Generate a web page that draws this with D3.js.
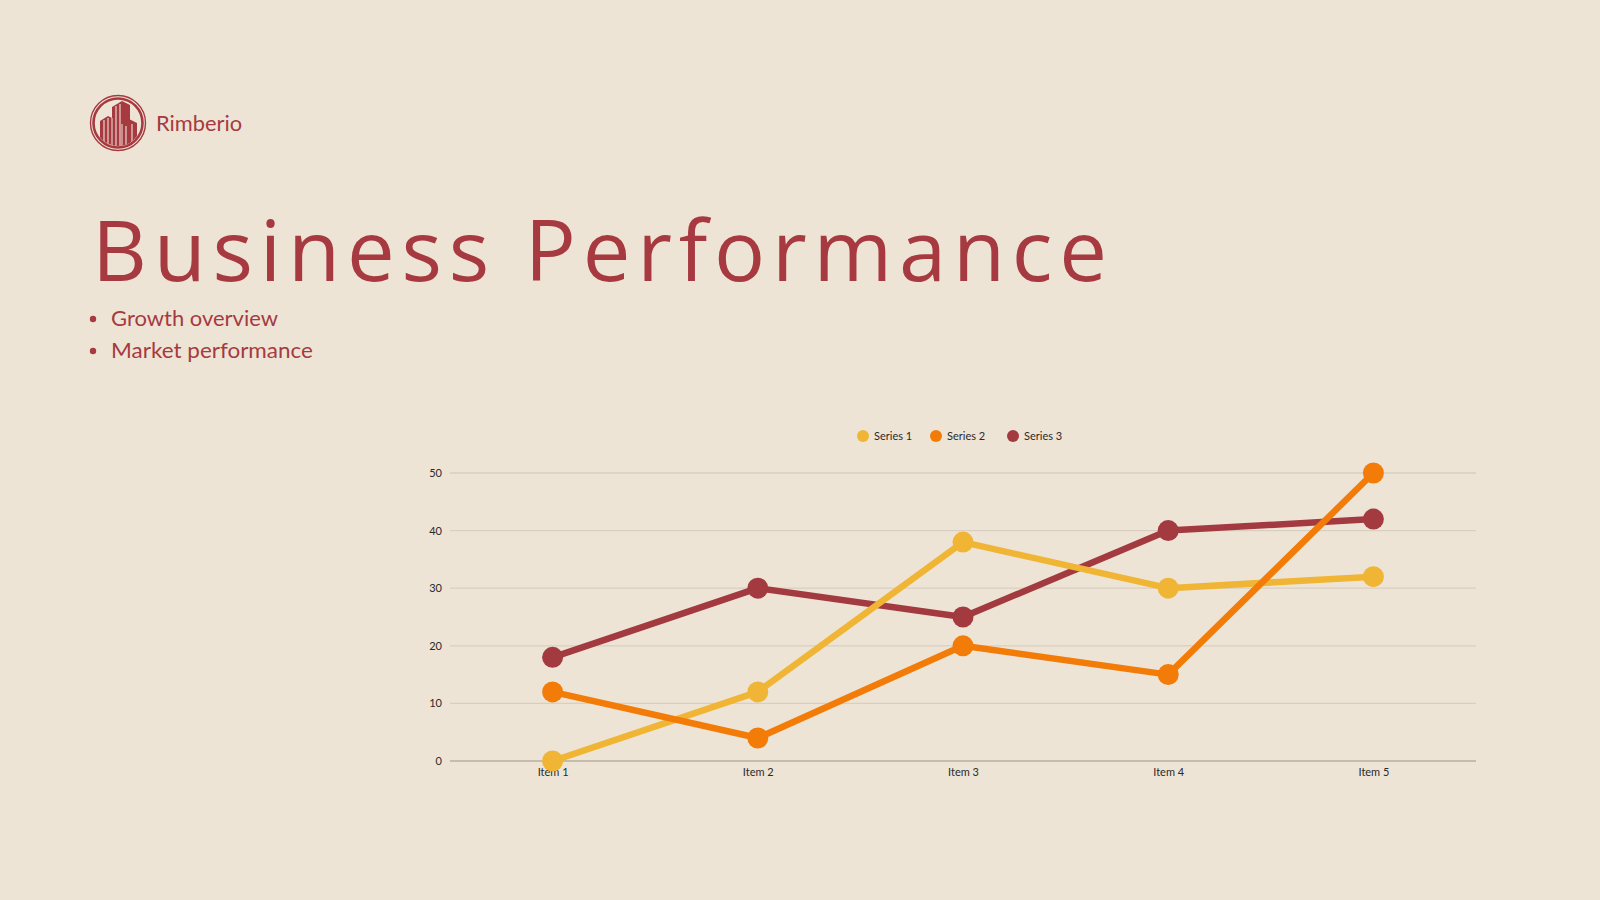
<!DOCTYPE html>
<html>
<head>
<meta charset="utf-8">
<script src="https://cdn.jsdelivr.net/npm/d3@7/dist/d3.min.js"></script>
<style>
  html, body { margin: 0; padding: 0; background: #EEE4D6; }
  svg { display: block; }
</style>
</head>
<body>
<svg id="chart" width="1600" height="900"></svg>
<script>
// ---- data ----
const categories = ["Item 1", "Item 2", "Item 3", "Item 4", "Item 5"];
const seriesNames = ["Series 1", "Series 2", "Series 3"];
const series1 = [0, 12, 38, 30, 32];
const series2 = [12, 4, 20, 15, 50];
const series3 = [18, 30, 25, 40, 42];
const yTicks = [0, 10, 20, 30, 40, 50];
const colors = ["#F0B534", "#F27C07", "#A23A40"];
const bullets = ["Growth overview", "Market performance"];

(function () {
const svg = d3.select("#chart");
const red = "#A63A40";

svg.append("rect").attr("width", 1600).attr("height", 900).attr("fill", "#EEE4D6");

// ---- logo ----
const logo = svg.append("g").attr("transform", "translate(118,123)");
logo.append("circle").attr("r", 27.5).attr("fill", "none").attr("stroke", red).attr("stroke-width", 1.4);
logo.append("circle").attr("r", 24.5).attr("fill", "none").attr("stroke", red).attr("stroke-width", 2.6);
svg.append("defs").append("clipPath").attr("id", "logoClip")
  .append("circle").attr("cx", 118).attr("cy", 123).attr("r", 23);
const bld = svg.append("g").attr("clip-path", "url(#logoClip)");
const polys = [
  [[100,121],[108,116],[112,118],[112,150],[100,150]],
  [[112,107],[122,101],[130,105],[130,150],[112,150]],
  [[122,124],[129,119],[137,123],[137,150],[122,150]]
];
polys.forEach(p => bld.append("path").attr("d", "M" + p.join("L") + "Z").attr("fill", red));
[[104,120,104,150],[108,118,108,150],[116,106,116,150],[120,104,120,150],[126,126,126,150],[132,124,132,150]]
  .forEach(l => bld.append("line").attr("x1", l[0]).attr("y1", l[1]).attr("x2", l[2]).attr("y2", l[3])
    .attr("stroke", "#EEE4D6").attr("stroke-width", 1.1));
bld.append("line").attr("x1",112).attr("y1",118).attr("x2",112).attr("y2",150).attr("stroke","#EEE4D6").attr("stroke-width",1);
bld.append("line").attr("x1",122).attr("y1",124).attr("x2",122).attr("y2",150).attr("stroke","#EEE4D6").attr("stroke-width",1);

svg.append("text").attr("x", 156).attr("y", 131).text("Rimberio")
  .attr("font-family", "Lato, sans-serif").attr("font-size", 22).attr("fill", red)
  .attr("textLength", 86).attr("lengthAdjust", "spacingAndGlyphs");

// ---- title ----
svg.append("text").attr("x", 92).attr("y", 281).text("Business Performance")
  .attr("font-family", "'Open Sans', sans-serif").attr("font-size", 85).attr("fill", red)
  .attr("textLength", 1015).attr("lengthAdjust", "spacing");

// ---- bullets ----
const bulletWidths = [167, 202];
bullets.forEach((b, i) => {
  const yy = 326 + i * 32;
  svg.append("circle").attr("cx", 93).attr("cy", yy - 7).attr("r", 3.2).attr("fill", red);
  svg.append("text").attr("x", 111).attr("y", yy).text(b)
    .attr("font-family", "Lato, sans-serif").attr("font-size", 22).attr("fill", red)
    .attr("textLength", bulletWidths[i]).attr("lengthAdjust", "spacingAndGlyphs");
});

// ---- chart ----
const pLeft = 450, pRight = 1476, pTop = 473, pBottom = 761;
const x = d3.scalePoint().domain(categories).range([pLeft, pRight]).padding(0.5);
const y = d3.scaleLinear().domain([0, 50]).range([pBottom, pTop]);

const grid = svg.append("g");
yTicks.forEach(t => {
  grid.append("line").attr("x1", pLeft).attr("x2", pRight).attr("y1", y(t)).attr("y2", y(t))
    .attr("stroke", t === 0 ? "#B8AEA2" : "#D9CFC1").attr("stroke-width", 1.3);
});

const yAxis = svg.append("g").attr("transform", `translate(${pLeft - 8},0)`)
  .call(d3.axisLeft(y).tickValues(yTicks).tickSize(0).tickPadding(0));
yAxis.select(".domain").remove();
yAxis.selectAll("text").attr("font-family", "Lato, sans-serif").attr("font-size", 11).attr("fill", "#2A2A2A");

const xAxis = svg.append("g").attr("transform", `translate(0,${pBottom + 5})`)
  .call(d3.axisBottom(x).tickSize(0).tickPadding(0));
xAxis.select(".domain").remove();
xAxis.selectAll("text").attr("font-family", "Lato, sans-serif").attr("font-size", 11).attr("fill", "#2A2A2A").attr("dy", "0.9em");

const allSeries = [series1, series2, series3];
const drawOrder = [2, 0, 1];
const line = d3.line().x((d, i) => x(categories[i])).y(d => y(d));
drawOrder.forEach(si => {
  const g = svg.append("g");
  g.append("path").datum(allSeries[si]).attr("d", line).attr("fill", "none")
    .attr("stroke", colors[si]).attr("stroke-width", 6.5).attr("stroke-linejoin", "round");
  g.selectAll("circle").data(allSeries[si]).join("circle")
    .attr("cx", (d, i) => x(categories[i])).attr("cy", d => y(d)).attr("r", 10.5)
    .attr("fill", colors[si]);
});

// ---- legend ----
const legendX = [863, 936, 1013];
seriesNames.forEach((n, i) => {
  svg.append("circle").attr("cx", legendX[i]).attr("cy", 436).attr("r", 6).attr("fill", colors[i]);
  svg.append("text").attr("x", legendX[i] + 11).attr("y", 440).text(n)
    .attr("font-family", "Lato, sans-serif").attr("font-size", 11).attr("fill", "#2A2A2A");
});
})();
</script>
</body>
</html>
